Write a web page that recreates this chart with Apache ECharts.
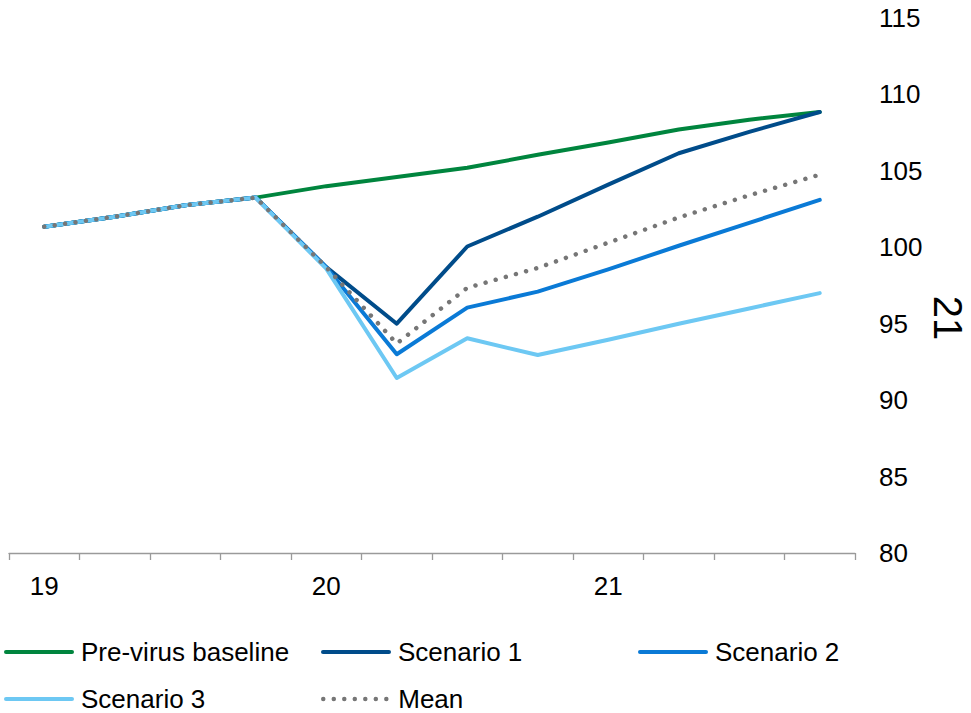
<!DOCTYPE html>
<html>
<head>
<meta charset="utf-8">
<script src="https://cdn.jsdelivr.net/npm/echarts@6/dist/echarts.min.js"></script>
<style>
html,body{margin:0;padding:0;background:#fff;}
#chart{width:971px;height:713px;}
</style>
</head>
<body>
<div id="chart"></div>
<script>
// ---- data ----
var categories = ['2019 Q1','2019 Q2','2019 Q3','2019 Q4','2020 Q1','2020 Q2','2020 Q3','2020 Q4','2021 Q1','2021 Q2','2021 Q3','2021 Q4'];
var tickLabels = ['19','','','','20','','','','21','','',''];
var seriesNames = ['Pre-virus baseline','Scenario 1','Scenario 2','Scenario 3','Mean'];
var baseline  = [101.35, 102.0, 102.75, 103.25, 104.0, 104.6, 105.2, 106.05, 106.85, 107.7, 108.35, 108.85];
var scenario1 = [101.35, 102.0, 102.75, 103.25, 98.7, 95.0, 100.05, 102.0, 104.1, 106.15, 107.55, 108.85];
var scenario2 = [101.35, 102.0, 102.75, 103.25, 98.7, 93.0, 96.05, 97.1, 98.55, 100.1, 101.6, 103.1];
var scenario3 = [101.35, 102.0, 102.75, 103.25, 98.6, 91.45, 94.05, 92.95, 93.95, 95.0, 96.0, 97.0];
var meanLine  = [101.35, 102.0, 102.75, 103.25, 98.7, 93.7, 97.35, 98.65, 100.3, 101.95, 103.4, 104.75];
var yMin = 80, yMax = 115, yStep = 5;
var sideLabel = '21';

// ---- styles ----
var colors = ['#00853E', '#004C8A', '#0A7AD6', '#6DC8F3', '#767676'];
var FONT = '"Liberation Sans", Arial, sans-serif';
var values = [baseline, scenario1, scenario2, scenario3, meanLine];

var series = seriesNames.map(function (n, i) {
  var dotted = (i === 4);
  return {
    name: n,
    type: 'line',
    data: values[i],
    symbol: 'none',
    z: 2 + i,
    lineStyle: {
      color: colors[i],
      width: dotted ? 4.5 : 4,
      type: dotted ? [0.01, 10.5] : 'solid',
      cap: 'round',
      join: 'round'
    },
    itemStyle: { color: colors[i] },
    emphasis: { disabled: true },
    animation: false
  };
});

var legendPos = [
  { left: 4, top: 639 },
  { left: 321, top: 639 },
  { left: 638, top: 639 },
  { left: 4, top: 686 },
  { left: 321, top: 686 }
];
var legends = seriesNames.map(function (n, i) {
  return {
    data: [n],
    left: legendPos[i].left,
    top: legendPos[i].top,
    orient: 'horizontal',
    itemWidth: 66,
    itemHeight: 14,
    padding: 0,
    selectedMode: false,
    textStyle: { fontSize: 26, color: '#000', fontFamily: FONT, padding: [0, 0, 0, 4] },
    itemStyle: { opacity: 0, borderWidth: 0 },
    lineStyle: { width: i === 4 ? 4.5 : 4, cap: 'round' }
  };
});

var chart = echarts.init(document.getElementById('chart'), null, { renderer: 'svg' });
chart.setOption({
  animation: false,
  backgroundColor: '#fff',
  textStyle: { fontFamily: FONT },
  grid: { left: 9, right: 116, top: 18, bottom: 160, containLabel: false },
  legend: legends,
  xAxis: {
    type: 'category',
    data: categories,
    boundaryGap: true,
    axisLine: { show: true, lineStyle: { color: '#9A9A9A', width: 1.3 } },
    axisTick: { show: true, alignWithLabel: false, interval: 0, length: 7, lineStyle: { color: '#9A9A9A', width: 1.3 } },
    axisLabel: {
      interval: 0,
      margin: 20,
      fontSize: 26,
      color: '#000',
      fontFamily: FONT,
      formatter: function (v, idx) { return tickLabels[idx]; }
    },
    splitLine: { show: false }
  },
  yAxis: {
    type: 'value',
    position: 'right',
    min: yMin,
    max: yMax,
    interval: yStep,
    axisLine: { show: false },
    axisTick: { show: false },
    splitLine: { show: false },
    axisLabel: { margin: 24, fontSize: 26, color: '#000', fontFamily: FONT, align: 'left' }
  },
  graphic: [{
    type: 'text',
    x: 948,
    y: 318,
    rotation: -Math.PI / 2,
    style: {
      text: sideLabel,
      font: '40px ' + FONT,
      fill: '#000',
      align: 'center',
      verticalAlign: 'middle'
    }
  }],
  series: series
});
</script>
</body>
</html>
